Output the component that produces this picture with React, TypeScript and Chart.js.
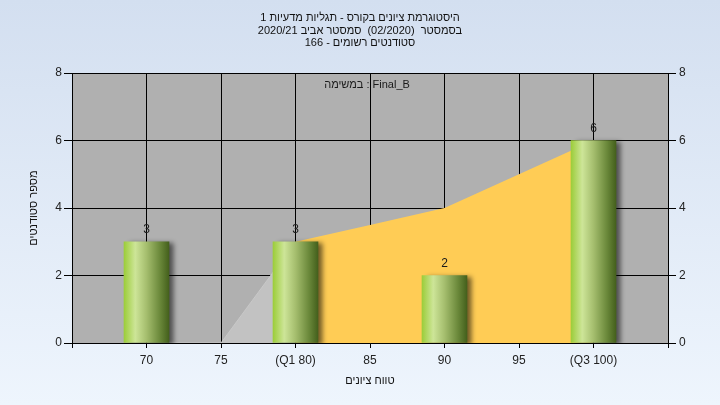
import React, { useEffect, useRef } from 'react';
import { Chart, registerables } from 'chart.js';

Chart.register(...registerables);

const FONT = "'Liberation Sans', 'DejaVu Sans', Arial, sans-serif";

const titleLines = [
  'היסטוגרמת ציונים בקורס - תגליות מדעיות 1',
  'בסמסטר  (02/2020)  סמסטר אביב 2020/21',
  'סטודנטים רשומים - 166',
];
const legendText = 'במשימה : Final_B';
const xTitle = 'טווח ציונים';
const yTitle = 'מספר סטודנטים';

const gradeTicks = [70, 75, 80, 85, 90, 95, 100];
const tickLabels = ['70', '75', '(Q1 80)', '85', '90', '95', '(Q3 100)'];
const barGrades = [70, 80, 90, 100];
const barCounts = [3, 3, 2, 6];
const curveValues = [0, 0, 3, 3.5, 4, 5, 6];
const grayUntil = 3; // first points of the curve drawn in gray

const BAR_W = 45;

const decorPlugin = {
  id: 'decor',
  beforeDraw(chart: any) {
    const { ctx, chartArea: a } = chart;
    ctx.save();
    ctx.fillStyle = '#B0B0B0';
    ctx.fillRect(a.left, a.top, a.right - a.left, a.bottom - a.top);
    ctx.restore();
  },
  beforeDatasetDraw(chart: any, args: any) {
    const ds = chart.data.datasets[args.index];
    if (ds.type === 'bar') {
      const ctx = chart.ctx;
      ctx.save();
      ctx.shadowColor = 'rgba(0,0,0,0.55)';
      ctx.shadowOffsetX = 5;
      ctx.shadowOffsetY = 2;
      ctx.shadowBlur = 5;
    }
  },
  afterDatasetDraw(chart: any, args: any) {
    const ds = chart.data.datasets[args.index];
    if (ds.type === 'bar') chart.ctx.restore();
  },
  afterDatasetsDraw(chart: any) {
    const { ctx, chartArea: a } = chart;
    ctx.save();
    ctx.font = `12px ${FONT}`;
    ctx.fillStyle = '#1a1a1a';
    ctx.textAlign = 'center';
    ctx.textBaseline = 'middle';
    chart.data.datasets.forEach((ds: any, i: number) => {
      if (ds.type !== 'bar') return;
      const meta = chart.getDatasetMeta(i);
      meta.data.forEach((el: any, j: number) => {
        ctx.fillText(String(barCounts[j]), el.x, el.y - 12);
      });
    });
    ctx.font = `11px ${FONT}`;
    ctx.fillText(legendText, (a.left + a.right) / 2 - 3, a.top + 12);
    ctx.restore();
  },
};

function barGradient(c: any) {
  const chart = c.chart;
  const xs = chart.scales && chart.scales.x;
  if (c.type !== 'data' || !xs) return '#8DB83A';
  const cx = xs.getPixelForValue(barGrades[c.dataIndex]);
  if (!Number.isFinite(cx)) return '#8DB83A';
  const g = chart.ctx.createLinearGradient(cx - BAR_W / 2, 0, cx + BAR_W / 2, 0);
  g.addColorStop(0, '#9CCD3A');
  g.addColorStop(0.25, '#CDE598');
  g.addColorStop(0.5, '#A5BE6E');
  g.addColorStop(0.8, '#6A883A');
  g.addColorStop(1, '#44601C');
  return g;
}

export default function App() {
  const ref = useRef<HTMLCanvasElement>(null);

  useEffect(() => {
    if (!ref.current) return;
    const grayPts = gradeTicks.slice(0, grayUntil).map((x, i) => ({ x, y: curveValues[i] }));
    const yellowPts = gradeTicks
      .slice(grayUntil - 1)
      .map((x, i) => ({ x, y: curveValues[i + grayUntil - 1] }));
    const barPts = barGrades.map((x, i) => ({ x, y: barCounts[i] }));

    const chart = new Chart(ref.current, {
      type: 'bar',
      data: {
        datasets: [
          {
            type: 'bar',
            data: barPts as any,
            backgroundColor: barGradient as any,
            borderWidth: 0,
            barThickness: BAR_W,
            order: 1,
          } as any,
          {
            type: 'line',
            data: yellowPts as any,
            backgroundColor: '#FFCC55',
            borderColor: '#FFCC55',
            borderWidth: 0,
            pointRadius: 0,
            fill: 'origin',
            tension: 0,
            order: 2,
          } as any,
          {
            type: 'line',
            data: grayPts as any,
            backgroundColor: '#C2C2C2',
            borderColor: '#C8C8C8',
            borderWidth: 1,
            pointRadius: 0,
            fill: 'origin',
            tension: 0,
            order: 3,
          } as any,
        ],
      },
      options: {
        responsive: false,
        animation: false,
        devicePixelRatio: 1,
        layout: { padding: 0 },
        plugins: {
          legend: { display: false },
          tooltip: { enabled: false },
          title: {
            display: true,
            text: titleLines,
            color: '#111',
            font: { family: FONT, size: 11, weight: 'normal', lineHeight: 1.15 },
            padding: { top: 11.7, bottom: 23.5 },
          },
        },
        scales: {
          x: {
            type: 'linear',
            min: 65,
            max: 105,
            offset: false,
            afterFit: (s: any) => {
              s.height = 62;
            },
            afterBuildTicks: (s: any) => {
              s.ticks = [65, ...gradeTicks, 105].map((v) => ({ value: v }));
            },
            ticks: {
              autoSkip: false,
              maxRotation: 0,
              padding: 5,
              color: '#222',
              font: { family: FONT, size: 12 },
              callback: (v: any) => {
                const i = gradeTicks.indexOf(Number(v));
                return i >= 0 ? tickLabels[i] : '';
              },
            },
            grid: { offset: false, color: '#000', lineWidth: 1, tickLength: 5 },
            border: { color: '#000', width: 1 },
            title: {
              display: true,
              text: xTitle,
              color: '#111',
              font: { family: FONT, size: 11, lineHeight: 1.2 },
              padding: { top: 0, bottom: 17.5 },
            },
          },
          y: {
            position: 'left',
            min: 0,
            max: 8,
            afterFit: (s: any) => {
              s.width = 72;
            },
            ticks: {
              stepSize: 2,
              padding: 2,
              color: '#222',
              font: { family: FONT, size: 12 },
            },
            grid: { color: '#000', lineWidth: 1, tickLength: 8 },
            border: { color: '#000', width: 1 },
            title: {
              display: true,
              text: yTitle,
              color: '#111',
              font: { family: FONT, size: 11, lineHeight: 1.2 },
              padding: { top: 27.5, bottom: 0 },
            },
          },
          y2: {
            position: 'right',
            min: 0,
            max: 8,
            afterFit: (s: any) => {
              s.width = 52;
            },
            ticks: {
              stepSize: 2,
              padding: 3,
              color: '#222',
              font: { family: FONT, size: 12 },
            },
            grid: { drawOnChartArea: false, color: '#000', lineWidth: 1, tickLength: 8 },
            border: { color: '#000', width: 1 },
          },
        },
      } as any,
      plugins: [decorPlugin],
    });
    return () => chart.destroy();
  }, []);

  return (
    <div
      style={{
        position: 'fixed',
        left: 0,
        top: 0,
        width: 720,
        height: 405,
        background: 'linear-gradient(#D3DFF0, #EEF5FD)',
      }}
    >
      <canvas ref={ref} width={720} height={405} style={{ display: 'block' }} />
    </div>
  );
}
